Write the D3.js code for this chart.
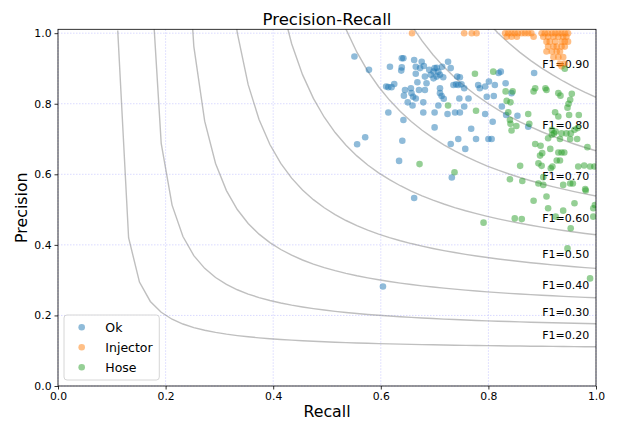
<!DOCTYPE html>
<html><head><meta charset="utf-8">
<script src="https://cdn.jsdelivr.net/npm/d3@7"></script>
<style>body{margin:0;background:#fff}svg{display:block}text{font-family:"DejaVu Sans",sans-serif}</style>
</head><body><svg id="c" width="619" height="421"></svg>
<script>
const xTicks=[0,0.2,0.4,0.6,0.8,1.0];
const yTicks=[0,0.2,0.4,0.6,0.8,1.0];
const f1Scores=[0.2,0.3,0.4,0.5,0.6,0.7,0.8,0.9];
const seriesNames=["Ok","Injector","Hose"];
const seriesColors=["#1f77b4","#ff7f0e","#2ca02c"];
const okPts=[[0.551,0.934],[0.578,0.896],[0.571,0.705],[0.556,0.685],[0.639,0.929],[0.642,0.929],[0.617,0.905],[0.639,0.903],[0.638,0.894],[0.662,0.924],[0.676,0.919],[0.680,0.907],[0.665,0.905],[0.673,0.901],[0.665,0.885],[0.690,0.896],[0.700,0.901],[0.704,0.902],[0.698,0.891],[0.707,0.891],[0.714,0.905],[0.725,0.919],[0.730,0.901],[0.693,0.882],[0.704,0.877],[0.710,0.882],[0.682,0.877],[0.698,0.872],[0.668,0.861],[0.685,0.858],[0.716,0.875],[0.742,0.877],[0.747,0.875],[0.735,0.853],[0.740,0.855],[0.744,0.853],[0.750,0.855],[0.755,0.844],[0.781,0.853],[0.794,0.849],[0.797,0.820],[0.610,0.849],[0.614,0.847],[0.625,0.856],[0.620,0.847],[0.645,0.839],[0.656,0.844],[0.671,0.839],[0.682,0.839],[0.643,0.823],[0.657,0.830],[0.660,0.820],[0.665,0.815],[0.710,0.844],[0.710,0.830],[0.713,0.822],[0.717,0.814],[0.650,0.804],[0.659,0.795],[0.679,0.804],[0.707,0.795],[0.746,0.815],[0.763,0.815],[0.755,0.792],[0.614,0.775],[0.679,0.775],[0.700,0.775],[0.724,0.771],[0.738,0.775],[0.747,0.775],[0.794,0.771],[0.642,0.754],[0.700,0.733],[0.768,0.729],[0.640,0.695],[0.730,0.686],[0.744,0.700],[0.777,0.700],[0.757,0.672],[0.800,0.700],[0.634,0.638],[0.732,0.591],[0.662,0.533],[0.604,0.282],[0.823,0.891],[0.819,0.887],[0.885,0.887],[0.801,0.863],[0.784,0.844],[0.812,0.853],[0.832,0.858],[0.810,0.822],[0.843,0.830],[0.825,0.792],[0.854,0.766],[0.833,0.768],[0.808,0.749],[0.806,0.700],[0.874,0.735]];
const injectorPts=[[0.658,1.0],[0.755,1.0],[0.769,1.0],[0.778,1.0],[0.831,1.0],[0.837,1.0],[0.843,1.0],[0.849,1.0],[0.855,1.0],[0.862,1.0],[0.868,1.0],[0.874,1.0],[0.880,1.0],[0.899,1.0],[0.905,1.0],[0.911,1.0],[0.918,1.0],[0.924,1.0],[0.930,1.0],[0.936,1.0],[0.942,1.0],[0.948,1.0],[0.834,0.99],[0.843,0.99],[0.853,0.99],[0.884,0.99],[0.902,0.99],[0.911,0.99],[0.921,0.99],[0.930,0.99],[0.939,0.99],[0.945,0.99],[0.908,0.976],[0.914,0.976],[0.924,0.976],[0.936,0.976],[0.942,0.976],[0.948,0.976],[0.911,0.962],[0.921,0.962],[0.927,0.962],[0.936,0.962],[0.942,0.962],[0.908,0.948],[0.918,0.948],[0.927,0.948],[0.933,0.948],[0.921,0.932],[0.930,0.932],[0.939,0.932],[0.933,0.913],[0.942,0.913],[0.936,0.906]];
const hosePts=[[0.775,0.885],[0.725,0.795],[0.777,0.780],[0.672,0.629],[0.737,0.606],[0.791,0.463],[0.809,0.891],[0.832,0.835],[0.845,0.835],[0.884,0.835],[0.887,0.844],[0.906,0.844],[0.908,0.839],[0.930,0.830],[0.934,0.823],[0.955,0.828],[0.952,0.811],[0.949,0.800],[0.947,0.789],[0.834,0.808],[0.841,0.804],[0.874,0.771],[0.924,0.776],[0.930,0.764],[0.950,0.768],[0.968,0.768],[0.837,0.776],[0.840,0.754],[0.841,0.743],[0.843,0.724],[0.852,0.737],[0.876,0.743],[0.918,0.726],[0.918,0.712],[0.922,0.716],[0.925,0.721],[0.936,0.716],[0.945,0.716],[0.953,0.716],[0.960,0.726],[0.966,0.731],[0.911,0.702],[0.933,0.700],[0.952,0.700],[0.965,0.700],[0.887,0.686],[0.897,0.681],[0.984,0.677],[0.915,0.672],[0.900,0.660],[0.896,0.653],[0.930,0.662],[0.936,0.662],[0.941,0.662],[0.927,0.639],[0.933,0.639],[0.859,0.624],[0.893,0.631],[0.899,0.624],[0.916,0.617],[0.919,0.622],[0.967,0.622],[0.978,0.625],[0.989,0.622],[0.997,0.622],[0.840,0.586],[0.863,0.581],[0.902,0.592],[0.893,0.574],[0.902,0.570],[0.939,0.570],[0.952,0.574],[0.957,0.574],[0.980,0.558],[0.981,0.554],[0.908,0.537],[0.884,0.525],[0.960,0.518],[0.911,0.504],[0.939,0.497],[0.995,0.504],[0.998,0.513],[0.849,0.475],[0.862,0.473],[0.925,0.480],[0.953,0.447],[0.947,0.390],[0.989,0.305],[0.942,0.899],[0.995,0.480]];
const allSeries=[okPts,injectorPts,hosePts];

const svg=d3.select("#c");
const L=58,R=596,T=29.3,B=386;
const x=d3.scaleLinear().domain([0,1]).range([L,R]);
const y=d3.scaleLinear().domain([0,1.011]).range([B,T]);

svg.append("defs").append("clipPath").attr("id","clip").append("rect").attr("x",L).attr("y",T).attr("width",R-L).attr("height",B-T);

// grid
const g=svg.append("g");
g.selectAll(".gx").data(xTicks).join("line").attr("x1",d=>x(d)).attr("x2",d=>x(d)).attr("y1",T).attr("y2",B)
 .attr("stroke","#b0b0ff").attr("stroke-opacity",0.6).attr("stroke-width",0.8).attr("stroke-dasharray","1.5,1.5");
g.selectAll(".gy").data(yTicks).join("line").attr("y1",d=>y(d)).attr("y2",d=>y(d)).attr("x1",L).attr("x2",R)
 .attr("stroke","#b0b0ff").attr("stroke-opacity",0.6).attr("stroke-width",0.8).attr("stroke-dasharray","1.5,1.5");

// iso-F1 curves
const xs=d3.range(50).map(i=>0.01+i*0.99/49);
const line=d3.line().x(d=>x(d[0])).y(d=>y(d[1]));
const cg=svg.append("g").attr("clip-path","url(#clip)");
f1Scores.forEach(f=>{
  const pts=xs.map(v=>[v,f*v/(2*v-f)]).filter(p=>p[1]>=0 && 2*p[0]-f>0);
  cg.append("path").attr("d",line(pts)).attr("fill","none").attr("stroke","#808080").attr("stroke-opacity",0.5).attr("stroke-width",1.4);
  const yl=f*xs[45]/(2*xs[45]-f)+0.02;
  svg.append("text").attr("x",x(0.9)).attr("y",y(yl)).attr("font-size","11px").attr("fill","#000").text("F1="+f.toFixed(2));
});

// points
const pg=svg.append("g").attr("clip-path","url(#clip)");
allSeries.forEach((s,i)=>{
  pg.selectAll(null).data(s).join("circle").attr("cx",d=>x(d[0])).attr("cy",d=>y(d[1])).attr("r",3.3)
    .attr("fill",seriesColors[i]).attr("fill-opacity",0.5);
});

// axes
const ax=svg.append("g").attr("transform",`translate(0,${B})`).call(d3.axisBottom(x).tickValues(xTicks).tickFormat(d3.format(".1f")).tickSize(3.5).tickPadding(3));
const ay=svg.append("g").attr("transform",`translate(${L},0)`).call(d3.axisLeft(y).tickValues(yTicks).tickFormat(d3.format(".1f")).tickSize(3.5).tickPadding(3));
[ax,ay].forEach(a=>{a.select(".domain").remove();a.selectAll("text").attr("font-size","10.8px").attr("font-family","DejaVu Sans").attr("fill","#000");a.selectAll("line").attr("stroke","#000").attr("stroke-width",0.8);});
svg.append("rect").attr("x",L).attr("y",T).attr("width",R-L).attr("height",B-T).attr("fill","none").attr("stroke","#000").attr("stroke-width",0.8);

// title, labels
svg.append("text").attr("x",(L+R)/2).attr("y",25).attr("text-anchor","middle").attr("font-size","16.5px").text("Precision-Recall");
svg.append("text").attr("x",(L+R)/2).attr("y",417).attr("text-anchor","middle").attr("font-size","15.8px").text("Recall");
svg.append("text").attr("transform",`translate(27,${(T+B)/2}) rotate(-90)`).attr("text-anchor","middle").attr("font-size","15.8px").text("Precision");

// legend
const lg=svg.append("g");
lg.append("rect").attr("x",64).attr("y",315).attr("width",95.3).attr("height",65).attr("rx",3).attr("fill","#fff").attr("fill-opacity",0.8).attr("stroke","#ccc").attr("stroke-width",0.8);
seriesNames.forEach((n,i)=>{
  const yy=327.3+i*20;
  lg.append("circle").attr("cx",81.7).attr("cy",yy).attr("r",3.3).attr("fill",seriesColors[i]).attr("fill-opacity",0.5);
  lg.append("text").attr("x",105.3).attr("y",yy).attr("dy","0.36em").attr("font-size","12.5px").text(n);
});
</script></body></html>
